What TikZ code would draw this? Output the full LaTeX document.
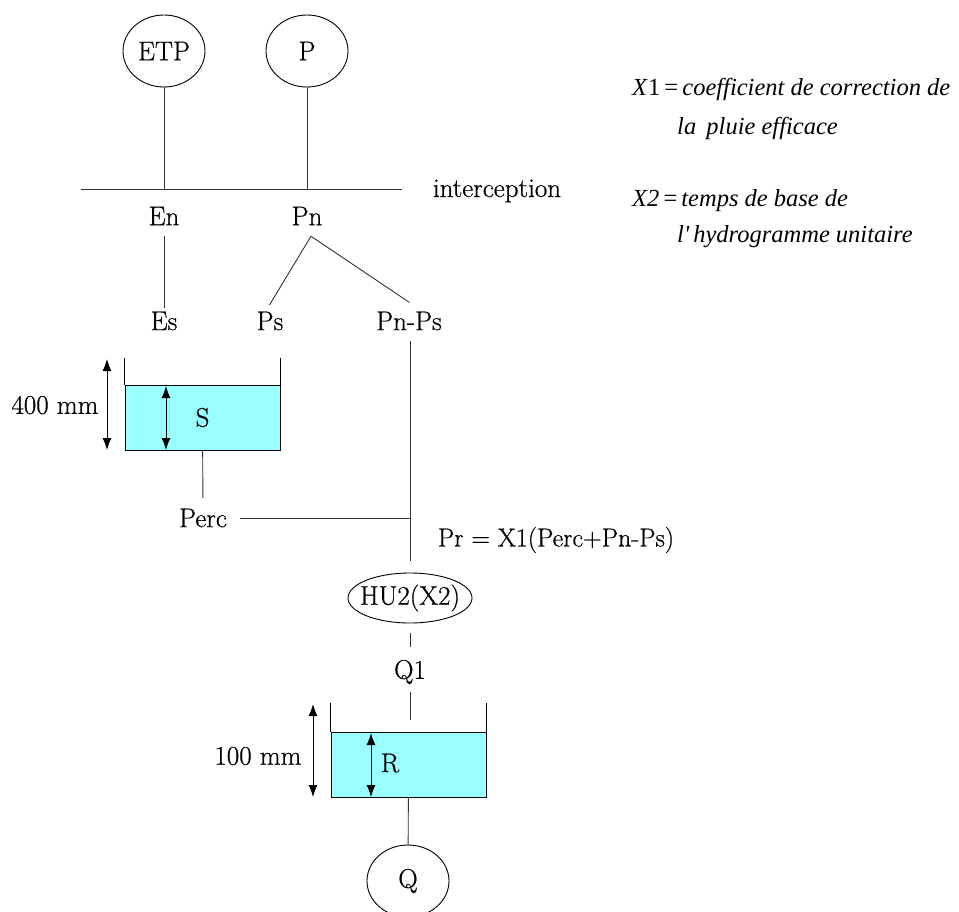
\documentclass[tikz,border=0pt]{standalone}
\usepackage{fontspec}
\setmainfont{Latin Modern Roman}[FakeBold=0.6]
\newfontfamily\timesit{Liberation Serif Italic}
\newfontfamily\timesup{Liberation Serif}
\usetikzlibrary{arrows.meta,shapes.geometric}
\definecolor{water}{HTML}{99FFFF}
\tikzset{
  lbl/.style={font=\fontsize{27}{30}\selectfont, inner sep=0pt, minimum height=40pt},
  circ/.style={draw, line width=0.9pt, ellipse, inner sep=0pt, font=\fontsize{27}{30}\selectfont},
  tank/.style={draw, line width=1pt, fill=water, rectangle, inner sep=0pt, minimum width=155pt, minimum height=65pt, font=\fontsize{27}{30}\selectfont},
  wire/.style={line width=0.9pt, draw=black!80},
  dim/.style={line width=1pt, {Latex[length=12pt,width=9pt]}-{Latex[length=12pt,width=9pt]}},
  note/.style={font=\timesit\fontsize{24.5}{28}\selectfont, inner sep=0pt, anchor=base west}
}
\begin{document}
\begin{tikzpicture}[x=1pt,y=-1pt]
\useasboundingbox (0,0) rectangle (959,911);
% sources
\node[circ, minimum width=82pt, minimum height=72pt] (etp) at (164,51) {ETP};
\node[circ, minimum width=82pt, minimum height=72pt] (p) at (307,51) {P};
\coordinate (jE) at (164,189);
\coordinate (jP) at (307,189);
\coordinate (iL) at (81,189);
\coordinate (iR) at (402,189);
\draw[wire] (etp) -- (jE);
\draw[wire] (p) -- (jP);
\draw[wire] (iL) -- (iR);
\node[lbl, anchor=base] (inter) at (497,197) {interception};
% labels
\node[lbl] (en) at (164,216) {En};
\node[lbl] (pn) at (307,216) {Pn};
\node[lbl] (es) at (164,321) {Es};
\node[lbl] (ps) at (270,321) {Ps};
\node[lbl] (pnps) at (409,321) {Pn-Ps};
\draw[wire, shorten >=-7pt] (en) -- (es);
\draw[wire, shorten >=-5pt] ([xshift=4pt]pn.south) -- ([xshift=2pt]ps.north);
\draw[wire, shorten >=-3pt] ([xshift=4pt]pn.south) -- ([xshift=-2pt]pnps.north);
% S tank
\node[tank] (sbox) at (202.5,417.5) {S};
\draw[line width=1pt] (sbox.north west) -- ++(0,-27);
\draw[line width=1pt] (sbox.north east) -- ++(0,-27);
\coordinate (sa1) at (107,359);
\coordinate (sa2) at (107,450);
\coordinate (sb1) at (166,386);
\coordinate (sb2) at (166,450);
\draw[dim] (sa1) -- (sa2);
\draw[dim] (sb1) -- (sb2);
\node[lbl] (s400) at (55,405) {400 mm};
% percolation
\node[lbl] (perc) at (203,518) {Perc};
\coordinate (jPr) at (410,518);
\coordinate (prEnd) at (410,561);
\draw[wire] (sbox) -- (perc);
\draw[wire, shorten <=13pt] (perc) -- (jPr);
\draw[wire] ([xshift=1pt]pnps.south) -- (prEnd);
\node[lbl, font=\fontsize{26}{30}\selectfont] (pr) at (556,540) {Pr = X1(Perc+Pn-Ps)};
% unit hydrograph
\node[circ, inner xsep=-7pt, inner ysep=4pt, minimum width=124pt, minimum height=50pt] (hu) at (410,598) {HU2(X2)};
\node[lbl] (q1) at (410,672) {Q1};
\draw[wire, shorten <=10pt, shorten >=5pt] (hu) -- (q1);
\coordinate (rIn) at (410,720);
\draw[wire] (q1) -- (rIn);
% R tank
\node[tank] (rbox) at (408.5,764.5) {};
\draw[line width=1pt] (rbox.north west) -- ++(0,-29);
\draw[line width=1pt] (rbox.north east) -- ++(0,-29);
\node[lbl] (r) at (390,763) {R};
\coordinate (ra1) at (313,704);
\coordinate (ra2) at (313,797);
\coordinate (rb1) at (371,733);
\coordinate (rb2) at (371,797);
\draw[dim] (ra1) -- (ra2);
\draw[dim] (rb1) -- (rb2);
\node[lbl] (r100) at (258,756) {100 mm};
% output
\node[circ, minimum width=82pt, minimum height=72pt] (q) at (408,881) {Q};
\draw[wire] (rbox) -- (q);
% notes
\node[note] (n1) at (632,95) {X\kern1pt{\timesup 1}\,{\timesup =}\,coefficient de correction de};
\node[note] (n2) at (677,134) {la\, pluie efficace};
\node[note] (n3) at (632,206) {X2\,{\timesup =}\,temps de base de};
\node[note] (n4) at (677,242) {l'\,hydrogramme unitaire};
\end{tikzpicture}
\end{document}
